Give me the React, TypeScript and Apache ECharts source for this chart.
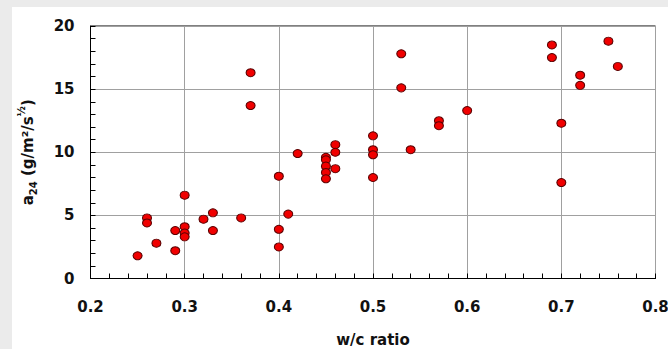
import React, { useEffect, useRef } from "react";
import * as echarts from "echarts";

const wcRatio = [
  0.25, 0.26, 0.26, 0.27, 0.29, 0.29, 0.30, 0.30, 0.30, 0.30,
  0.32, 0.33, 0.33, 0.36, 0.37, 0.37, 0.40, 0.40, 0.40, 0.41,
  0.42, 0.45, 0.45, 0.45, 0.45, 0.45, 0.46, 0.46, 0.46, 0.50,
  0.50, 0.50, 0.50, 0.53, 0.53, 0.54, 0.57, 0.57, 0.60, 0.69,
  0.69, 0.70, 0.70, 0.72, 0.72, 0.75, 0.76,
];
const a24 = [
  1.8, 4.8, 4.4, 2.8, 3.8, 2.2, 6.6, 4.1, 3.6, 3.3,
  4.7, 5.2, 3.8, 4.8, 16.3, 13.7, 8.1, 3.9, 2.5, 5.1,
  9.9, 9.6, 9.4, 8.9, 8.4, 7.9, 10.6, 10.0, 8.7, 11.3,
  10.2, 9.8, 8.0, 17.8, 15.1, 10.2, 12.5, 12.1, 13.3, 18.5,
  17.5, 12.3, 7.6, 16.1, 15.3, 18.8, 16.8,
];
const xTicks = [0.2, 0.3, 0.4, 0.5, 0.6, 0.7, 0.8];
const yTicks = [0, 5, 10, 15, 20];

export default function App() {
  const ref = useRef<HTMLDivElement>(null);
  useEffect(() => {
    if (!ref.current) return;
    const chart = echarts.init(ref.current, null, { renderer: "svg" });
    const font = "'DejaVu Sans', 'Liberation Sans', Arial, sans-serif";
    chart.setOption({
      animation: false,
      backgroundColor: "#ebebeb",
      graphic: [
        {
          type: "rect",
          left: 12,
          top: 7,
          shape: { width: 656, height: 342 },
          style: { fill: "#ffffff" },
          z: -10,
          silent: true,
        },
      ],
      grid: {
        left: 90.5,
        right: 12.5,
        top: 26,
        bottom: 70.5,
        outerBoundsMode: "none",
        containLabel: false,
        show: true,
        borderColor: "#000",
        borderWidth: 1,
        backgroundColor: "#fff",
      },
      xAxis: {
        type: "value",
        min: xTicks[0],
        max: xTicks[xTicks.length - 1],
        interval: 0.1,
        name: "w/c ratio",
        nameLocation: "middle",
        nameGap: 54,
        nameTextStyle: { fontFamily: font, fontWeight: "bold", fontSize: 15, color: "#111" },
        axisLine: { show: true, onZero: false, lineStyle: { color: "#000", width: 1 } },
        axisTick: { show: true, inside: true, length: 5, lineStyle: { color: "#000" } },
        minorTick: { show: true, splitNumber: 5, length: 5, lineStyle: { color: "#000" } },
        axisLabel: {
          fontFamily: font,
          fontWeight: "bold",
          fontSize: 15,
          color: "#111",
          margin: 21,
          formatter: (v: number) => v.toFixed(1),
        },
        splitLine: { show: true, lineStyle: { color: "#a0a0a0", width: 1 } },
      },
      yAxis: {
        type: "value",
        min: yTicks[0],
        max: yTicks[yTicks.length - 1],
        interval: 5,
        name: "{a|a}{sub|24}{a| (g/m²/s}{sup|½}{a|)}",
        nameLocation: "middle",
        nameRotate: 90,
        nameGap: 52,
        nameTextStyle: {
          rich: {
            a: { fontFamily: font, fontWeight: "bold", fontSize: 15, color: "#111", lineHeight: 22, verticalAlign: "middle" },
            sub: { fontFamily: font, fontWeight: "bold", fontSize: 10, color: "#111", lineHeight: 22, verticalAlign: "bottom", padding: [6, 0, 0, 0] },
            sup: { fontFamily: font, fontWeight: "bold", fontSize: 10, color: "#111", lineHeight: 22, verticalAlign: "top", padding: [0, 0, 8, 0] },
          },
        },
        axisLine: { show: true, lineStyle: { color: "#000", width: 1 } },
        axisTick: { show: true, inside: true, length: 5, lineStyle: { color: "#000" } },
        minorTick: { show: true, splitNumber: 5, length: 5, lineStyle: { color: "#000" } },
        axisLabel: {
          fontFamily: font,
          fontWeight: "bold",
          fontSize: 15,
          color: "#111",
          margin: 16,
        },
        splitLine: { show: true, lineStyle: { color: "#a0a0a0", width: 1 } },
      },
      series: [
        {
          type: "scatter",
          data: wcRatio.map((x, i) => [x, a24[i]]),
          symbol: "circle",
          symbolSize: [9, 8],
          itemStyle: { color: "#f00000", borderColor: "#5a0000", borderWidth: 1, opacity: 1 },
          z: 5,
        },
      ],
    });
    return () => chart.dispose();
  }, []);
  return (
    <div
      ref={ref}
      style={{ position: "fixed", left: 0, top: 0, width: 668, height: 349 }}
    />
  );
}
